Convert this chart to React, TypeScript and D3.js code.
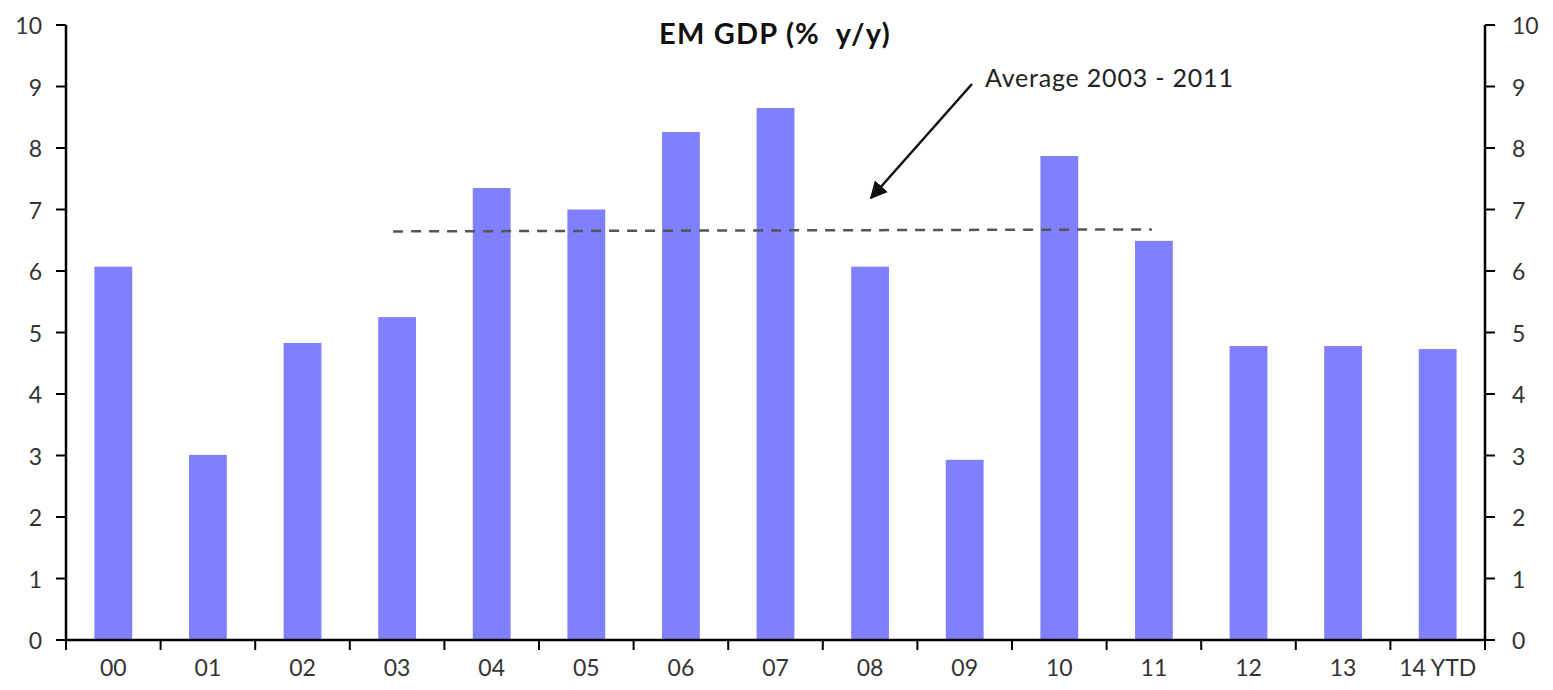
import * as d3 from "d3";

const categories = ["00", "01", "02", "03", "04", "05", "06", "07", "08", "09", "10", "11", "12", "13", "14 YTD"];
const gdpValues = [6.07, 3.01, 4.83, 5.25, 7.35, 7.0, 8.26, 8.65, 6.07, 2.93, 7.87, 6.49, 4.78, 4.78, 4.73];
const yTicks = [0, 1, 2, 3, 4, 5, 6, 7, 8, 9, 10];
const averageValue = 6.66;
const averageRange = ["03", "11"];

export default function App() {
  const width = 1553;
  const height = 690;
  const margin = { top: 25, right: 68, bottom: 50, left: 66 };
  const font = "Lato, 'Open Sans', sans-serif";

  const x = d3
    .scaleBand()
    .domain(categories)
    .range([margin.left, width - margin.right])
    .paddingInner(0.6)
    .paddingOuter(0.3);

  const y = d3
    .scaleLinear()
    .domain([0, 10])
    .range([height - margin.bottom, margin.top]);

  const step = x.step();
  const x0 = margin.left;
  const x1 = width - margin.right;
  const yBase = y(0);
  const tickEdges = d3.range(categories.length + 1).map((i) => x0 + i * step);

  const avgX1 = (x(averageRange[0]) ?? 0) + x.bandwidth() / 2 - 4;
  const avgX2 = (x(averageRange[1]) ?? 0) + x.bandwidth() / 2 - 2;

  return (
    <svg
      width={width}
      height={height}
      style={{ position: "absolute", left: 0, top: 0, background: "#fff" }}
    >
      <defs>
        <marker
          id="arrow"
          viewBox="0 0 10 10"
          refX="9"
          refY="5"
          markerWidth="7"
          markerHeight="7"
          orient="auto"
        >
          <path d="M0,0 L10,5 L0,10 z" fill="#111" />
        </marker>
      </defs>

      {/* bars */}
      {categories.map((c, i) => (
        <rect
          key={c}
          x={x(c)}
          y={y(gdpValues[i])}
          width={x.bandwidth()}
          height={yBase - y(gdpValues[i])}
          fill="#8080ff"
        />
      ))}

      {/* average line */}
      <line
        x1={avgX1}
        x2={avgX2}
        y1={y(averageValue) + 1}
        y2={y(averageValue) - 1}
        stroke="#555"
        strokeWidth={2.5}
        strokeDasharray="10 8"
      />

      {/* annotation */}
      <line
        x1={972}
        y1={84}
        x2={871}
        y2={198}
        stroke="#111"
        strokeWidth={2.5}
        markerEnd="url(#arrow)"
      />
      <text
        x={985}
        y={87}
        fontFamily={font}
        fontSize={25}
        letterSpacing={0.8}
        fill="#222"
      >
        Average 2003 - 2011
      </text>

      {/* title */}
      <text
        x={775}
        y={44}
        textAnchor="middle"
        fontFamily={font}
        fontWeight="bold"
        fontSize={29}
        letterSpacing={1.2}
        fill="#111"
        style={{ whiteSpace: "pre" }}
      >
        {"EM GDP (%  y/y)"}
      </text>

      {/* axes */}
      <line x1={x0} x2={x0} y1={y(10)} y2={yBase} stroke="#000" strokeWidth={2.5} />
      <line x1={x1} x2={x1} y1={y(10)} y2={yBase} stroke="#000" strokeWidth={2.5} />
      <line x1={x0} x2={x1} y1={yBase} y2={yBase} stroke="#000" strokeWidth={2.5} />

      {yTicks.map((t) => (
        <g key={t}>
          <line x1={x0 - 10} x2={x0} y1={y(t)} y2={y(t)} stroke="#000" strokeWidth={2} />
          <line x1={x1} x2={x1 + 10} y1={y(t)} y2={y(t)} stroke="#000" strokeWidth={2} />
          <text
            x={42}
            y={y(t)}
            textAnchor="end"
            dominantBaseline="central"
            fontFamily={font}
            fontSize={23}
            fill="#333"
          >
            {t}
          </text>
          <text
            x={1512}
            y={y(t)}
            textAnchor="start"
            dominantBaseline="central"
            fontFamily={font}
            fontSize={23}
            fill="#333"
          >
            {t}
          </text>
        </g>
      ))}

      {tickEdges.map((tx, i) => (
        <line key={i} x1={tx} x2={tx} y1={yBase} y2={yBase + 10} stroke="#000" strokeWidth={2} />
      ))}

      {categories.map((c) => (
        <text
          key={c}
          x={(x(c) ?? 0) + x.bandwidth() / 2}
          y={yBase + 36}
          textAnchor="middle"
          fontFamily={font}
          fontSize={23}
          fill="#333"
        >
          {c}
        </text>
      ))}
    </svg>
  );
}
